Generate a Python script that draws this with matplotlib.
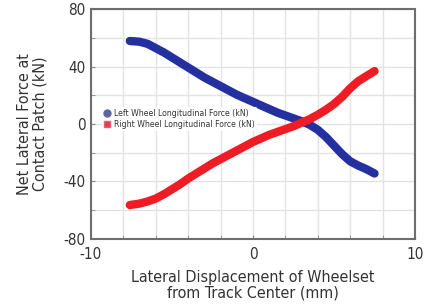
import matplotlib
matplotlib.use("Agg")
import matplotlib.pyplot as plt
from matplotlib.ticker import MultipleLocator
from matplotlib.lines import Line2D

plt.rcParams['font.family'] = ['DejaVu Sans']
plt.rcParams['font.stretch'] = 'condensed'
plt.rcParams['axes.unicode_minus'] = False

# lateral displacement of wheelset (mm)
disp = [-7.6, -7.0, -6.5, -6.0, -5.5, -5.0, -4.5, -4.0, -3.5, -3.0, -2.5,
        -2.0, -1.5, -1.0, -0.5, 0.0, 0.5, 1.0, 1.5, 2.0, 2.5, 3.0, 3.5,
        4.0, 4.5, 5.0, 5.5, 6.0, 6.5, 7.0, 7.5]
# net lateral force (kN)
left_force = [58, 57.5, 56, 53, 50, 46.5, 43, 39.5, 36, 32.5, 29.5,
              26.5, 23.5, 20.5, 18, 15.5, 13, 10.5, 8, 6, 4, 2, -0.5,
              -4, -9, -15, -21, -26, -29, -31.5, -34.5]
right_force = [-56.5, -55.5, -54, -52, -49, -45.5, -42, -38, -34.5, -31, -27.5,
               -24.5, -21.5, -18.5, -15.5, -12.5, -10, -7.5, -5.5, -3.5, -1.5, 1, 3.5,
               6.5, 10, 14, 19, 25, 30, 33.5, 37]

series_names = ['Left Wheel Longitudinal Force (kN)', 'Right Wheel Longitudinal Force (kN)']

fig = plt.figure(figsize=(4.31, 3.06), dpi=100)
ax = fig.add_axes([0.211, 0.22, 0.752, 0.749])

ax.plot(disp, left_force, color='#2430a0', lw=6, solid_capstyle='round',
        solid_joinstyle='round', zorder=3)
ax.plot(disp, right_force, color='#ee1c24', lw=6, solid_capstyle='round',
        solid_joinstyle='round', zorder=4)

ax.set_xlim(-10, 10)
ax.set_ylim(-80, 80)
ax.xaxis.set_major_locator(MultipleLocator(10))
ax.yaxis.set_major_locator(MultipleLocator(40))
ax.xaxis.set_minor_locator(MultipleLocator(2))
ax.yaxis.set_minor_locator(MultipleLocator(20))
ax.grid(True, which='both', color='#e3e3e3', lw=1.0, zorder=0)
ax.set_axisbelow(True)

ax.tick_params(which='both', direction='in', color='#888888', length=3,
               labelsize=11, labelcolor='#333333')
ax.tick_params(axis='x', pad=6)
ax.tick_params(axis='y', pad=4)
for s in ax.spines.values():
    s.set_color('#6e6e6e')
    s.set_linewidth(1.5)

ax.set_xlabel('Lateral Displacement of Wheelset\nfrom Track Center (mm)',
              fontsize=11.5, color='#333333', linespacing=1.05)
ax.xaxis.set_label_coords(0.5, -0.135)
ax.xaxis.label.set_verticalalignment('top')
ax.set_ylabel('Net Lateral Force at\nContact Patch (kN)',
              fontsize=11.5, color='#333333', linespacing=1.05)
ax.yaxis.set_label_coords(-0.135, 0.5)

handles = [Line2D([], [], ls='', marker='o', ms=5, color='#5a66a0'),
           Line2D([], [], ls='', marker='s', ms=5, color='#e0404c',
                  markeredgecolor='#e86070')]
leg = ax.legend(handles, series_names, loc='upper left',
                bbox_to_anchor=(0.034, 0.575), fontsize=6.2, frameon=True,
                handlelength=0.6, handletextpad=0.5, labelspacing=0.15,
                borderpad=0.3, borderaxespad=0)
leg.get_frame().set_facecolor('white')
leg.get_frame().set_edgecolor('none')
leg.get_frame().set_alpha(1)
for t in leg.get_texts():
    t.set_color('#333333')

fig.savefig('out.png', dpi=100)
